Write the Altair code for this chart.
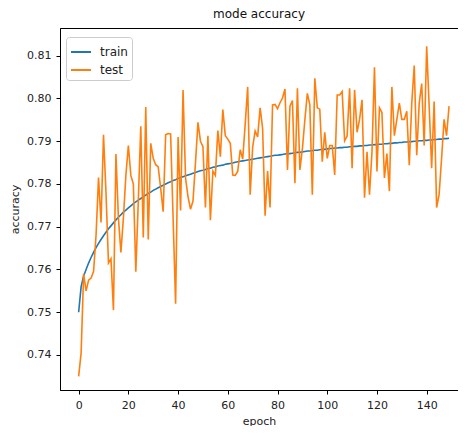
import altair as alt
import pandas as pd

epochs = list(range(150))

train = [
    0.7500, 0.7560, 0.7585, 0.7600, 0.7615, 0.7628, 0.7640, 0.7651, 0.7661, 0.7670,
    0.7679, 0.7687, 0.7695, 0.7702, 0.7709, 0.7716, 0.7722, 0.7728, 0.7734, 0.7739,
    0.7744, 0.7749, 0.7754, 0.7758, 0.7762, 0.7766, 0.7770, 0.7774, 0.7778, 0.7781,
    0.7785, 0.7788, 0.7791, 0.7794, 0.7797, 0.7800, 0.7803, 0.7805, 0.7808, 0.7810,
    0.7813, 0.7815, 0.7817, 0.7819, 0.7821, 0.7823, 0.7825, 0.7827, 0.7829, 0.7831,
    0.7832, 0.7834, 0.7836, 0.7837, 0.7839, 0.7840, 0.7842, 0.7843, 0.7844, 0.7846,
    0.7847, 0.7848, 0.7849, 0.7851, 0.7852, 0.7853, 0.7854, 0.7855, 0.7856, 0.7857,
    0.7858, 0.7859, 0.7860, 0.7861, 0.7862, 0.7863, 0.7864, 0.7865, 0.7866, 0.7867,
    0.7867, 0.7868, 0.7869, 0.7870, 0.7871, 0.7871, 0.7872, 0.7873, 0.7874, 0.7874,
    0.7875, 0.7876, 0.7877, 0.7877, 0.7878, 0.7879, 0.7879, 0.7880, 0.7881, 0.7881,
    0.7882, 0.7883, 0.7883, 0.7884, 0.7884, 0.7885, 0.7885, 0.7886, 0.7886, 0.7887,
    0.7887, 0.7888, 0.7888, 0.7889, 0.7889, 0.7890, 0.7890, 0.7891, 0.7891, 0.7892,
    0.7892, 0.7893, 0.7893, 0.7894, 0.7894, 0.7895, 0.7895, 0.7896, 0.7896, 0.7897,
    0.7897, 0.7898, 0.7898, 0.7899, 0.7899, 0.7900, 0.7900, 0.7901, 0.7901, 0.7902,
    0.7902, 0.7903, 0.7903, 0.7904, 0.7904, 0.7905, 0.7905, 0.7906, 0.7906, 0.7907,
]

test = [
    0.7350, 0.7405, 0.7590, 0.7550, 0.7575, 0.7580, 0.7595, 0.7680, 0.7815, 0.7710,
    0.7915, 0.7780, 0.7615, 0.7625, 0.7505, 0.7870, 0.7720, 0.7640, 0.7720, 0.7820,
    0.7890, 0.7820, 0.7800, 0.7595, 0.7760, 0.7935, 0.7675, 0.7980, 0.7670, 0.7895,
    0.7860, 0.7845, 0.7840, 0.7790, 0.7735, 0.7915, 0.7918, 0.7917, 0.7720, 0.7520,
    0.7910, 0.7738, 0.8020, 0.7814, 0.7770, 0.7741, 0.7760, 0.7850, 0.7944, 0.7900,
    0.7887, 0.7745, 0.7913, 0.7715, 0.7830, 0.7820, 0.7925, 0.7864, 0.7974, 0.7913,
    0.7905, 0.7895, 0.7821, 0.7820, 0.7830, 0.7880, 0.7858, 0.7940, 0.8027, 0.7775,
    0.7886, 0.7924, 0.7910, 0.7978, 0.7930, 0.7726, 0.7830, 0.7745, 0.7985, 0.7986,
    0.7976, 0.7990, 0.8001, 0.8022, 0.7833, 0.7982, 0.7995, 0.7802, 0.8024, 0.7833,
    0.7882, 0.7950, 0.8012, 0.7985, 0.7775, 0.8047, 0.7978, 0.7975, 0.7852, 0.7921,
    0.7860, 0.7890, 0.7890, 0.7821, 0.8008, 0.8008, 0.8016, 0.7901, 0.7912, 0.8024,
    0.7837, 0.8020, 0.7921, 0.7951, 0.7997, 0.7768, 0.7875, 0.7775, 0.7875, 0.8073,
    0.7829, 0.7978, 0.7967, 0.7814, 0.7871, 0.7783, 0.8027, 0.7913, 0.7951, 0.7989,
    0.7951, 0.7951, 0.7970, 0.7844, 0.7989, 0.8077, 0.7867, 0.7989, 0.8035, 0.7890,
    0.8122, 0.7982, 0.7837, 0.7993, 0.7745, 0.7775, 0.7860, 0.7951, 0.7913, 0.7982,
]

series_names = ["train", "test"]
series_colors = ["#1f77b4", "#ff7f0e"]
x_ticks = [0, 20, 40, 60, 80, 100, 120, 140]
y_ticks = [0.74, 0.75, 0.76, 0.77, 0.78, 0.79, 0.80, 0.81]

rows = []
for name, vals in zip(series_names, [train, test]):
    for e, v in zip(epochs, vals):
        rows.append({"epoch": e, "accuracy": v, "series": name})
df = pd.DataFrame(rows)

font = "DejaVu Sans"

chart = alt.Chart(df).mark_line(strokeWidth=1.6).encode(
    x=alt.X("epoch:Q",
            scale=alt.Scale(domain=[-7.5, 152.6], nice=False, zero=False),
            axis=alt.Axis(values=x_ticks, title="epoch", format="d")),
    y=alt.Y("accuracy:Q",
            scale=alt.Scale(domain=[0.73181, 0.81648], nice=False, zero=False),
            axis=alt.Axis(values=y_ticks, title="accuracy", format=".2f")),
    color=alt.Color("series:N",
                    scale=alt.Scale(domain=series_names, range=series_colors),
                    legend=alt.Legend(title=None, orient="none", legendX=6, legendY=9,
                                      symbolType="stroke", symbolSize=400,
                                      symbolStrokeWidth=2, labelFontSize=12,
                                      labelFont=font, labelColor="#222",
                                      fillColor="white", strokeColor="#cccccc",
                                      cornerRadius=3, padding=4, rowPadding=1,
                                      labelOffset=8)),
).properties(
    width=398,
    height=362,
    title=alt.TitleParams("mode accuracy", fontSize=12, font=font,
                          fontWeight="normal", color="#111", offset=7),
    autosize=alt.AutoSizeParams(type="none"),
    padding={"left": 52, "top": 20, "right": 0, "bottom": 36},
).configure_view(
    stroke="black", strokeWidth=1
).configure_axis(
    grid=False, domainColor="black", tickColor="black", tickSize=4,
    labelFont=font, labelFontSize=11, labelColor="#222",
    titleFont=font, titleFontSize=11, titleFontWeight="normal", titleColor="#222",
    labelPadding=5
).configure_axisY(
    titlePadding=6
).configure_axisX(
    titlePadding=5
)

chart.save("out.html", embed_options={"renderer": "svg", "actions": False})
